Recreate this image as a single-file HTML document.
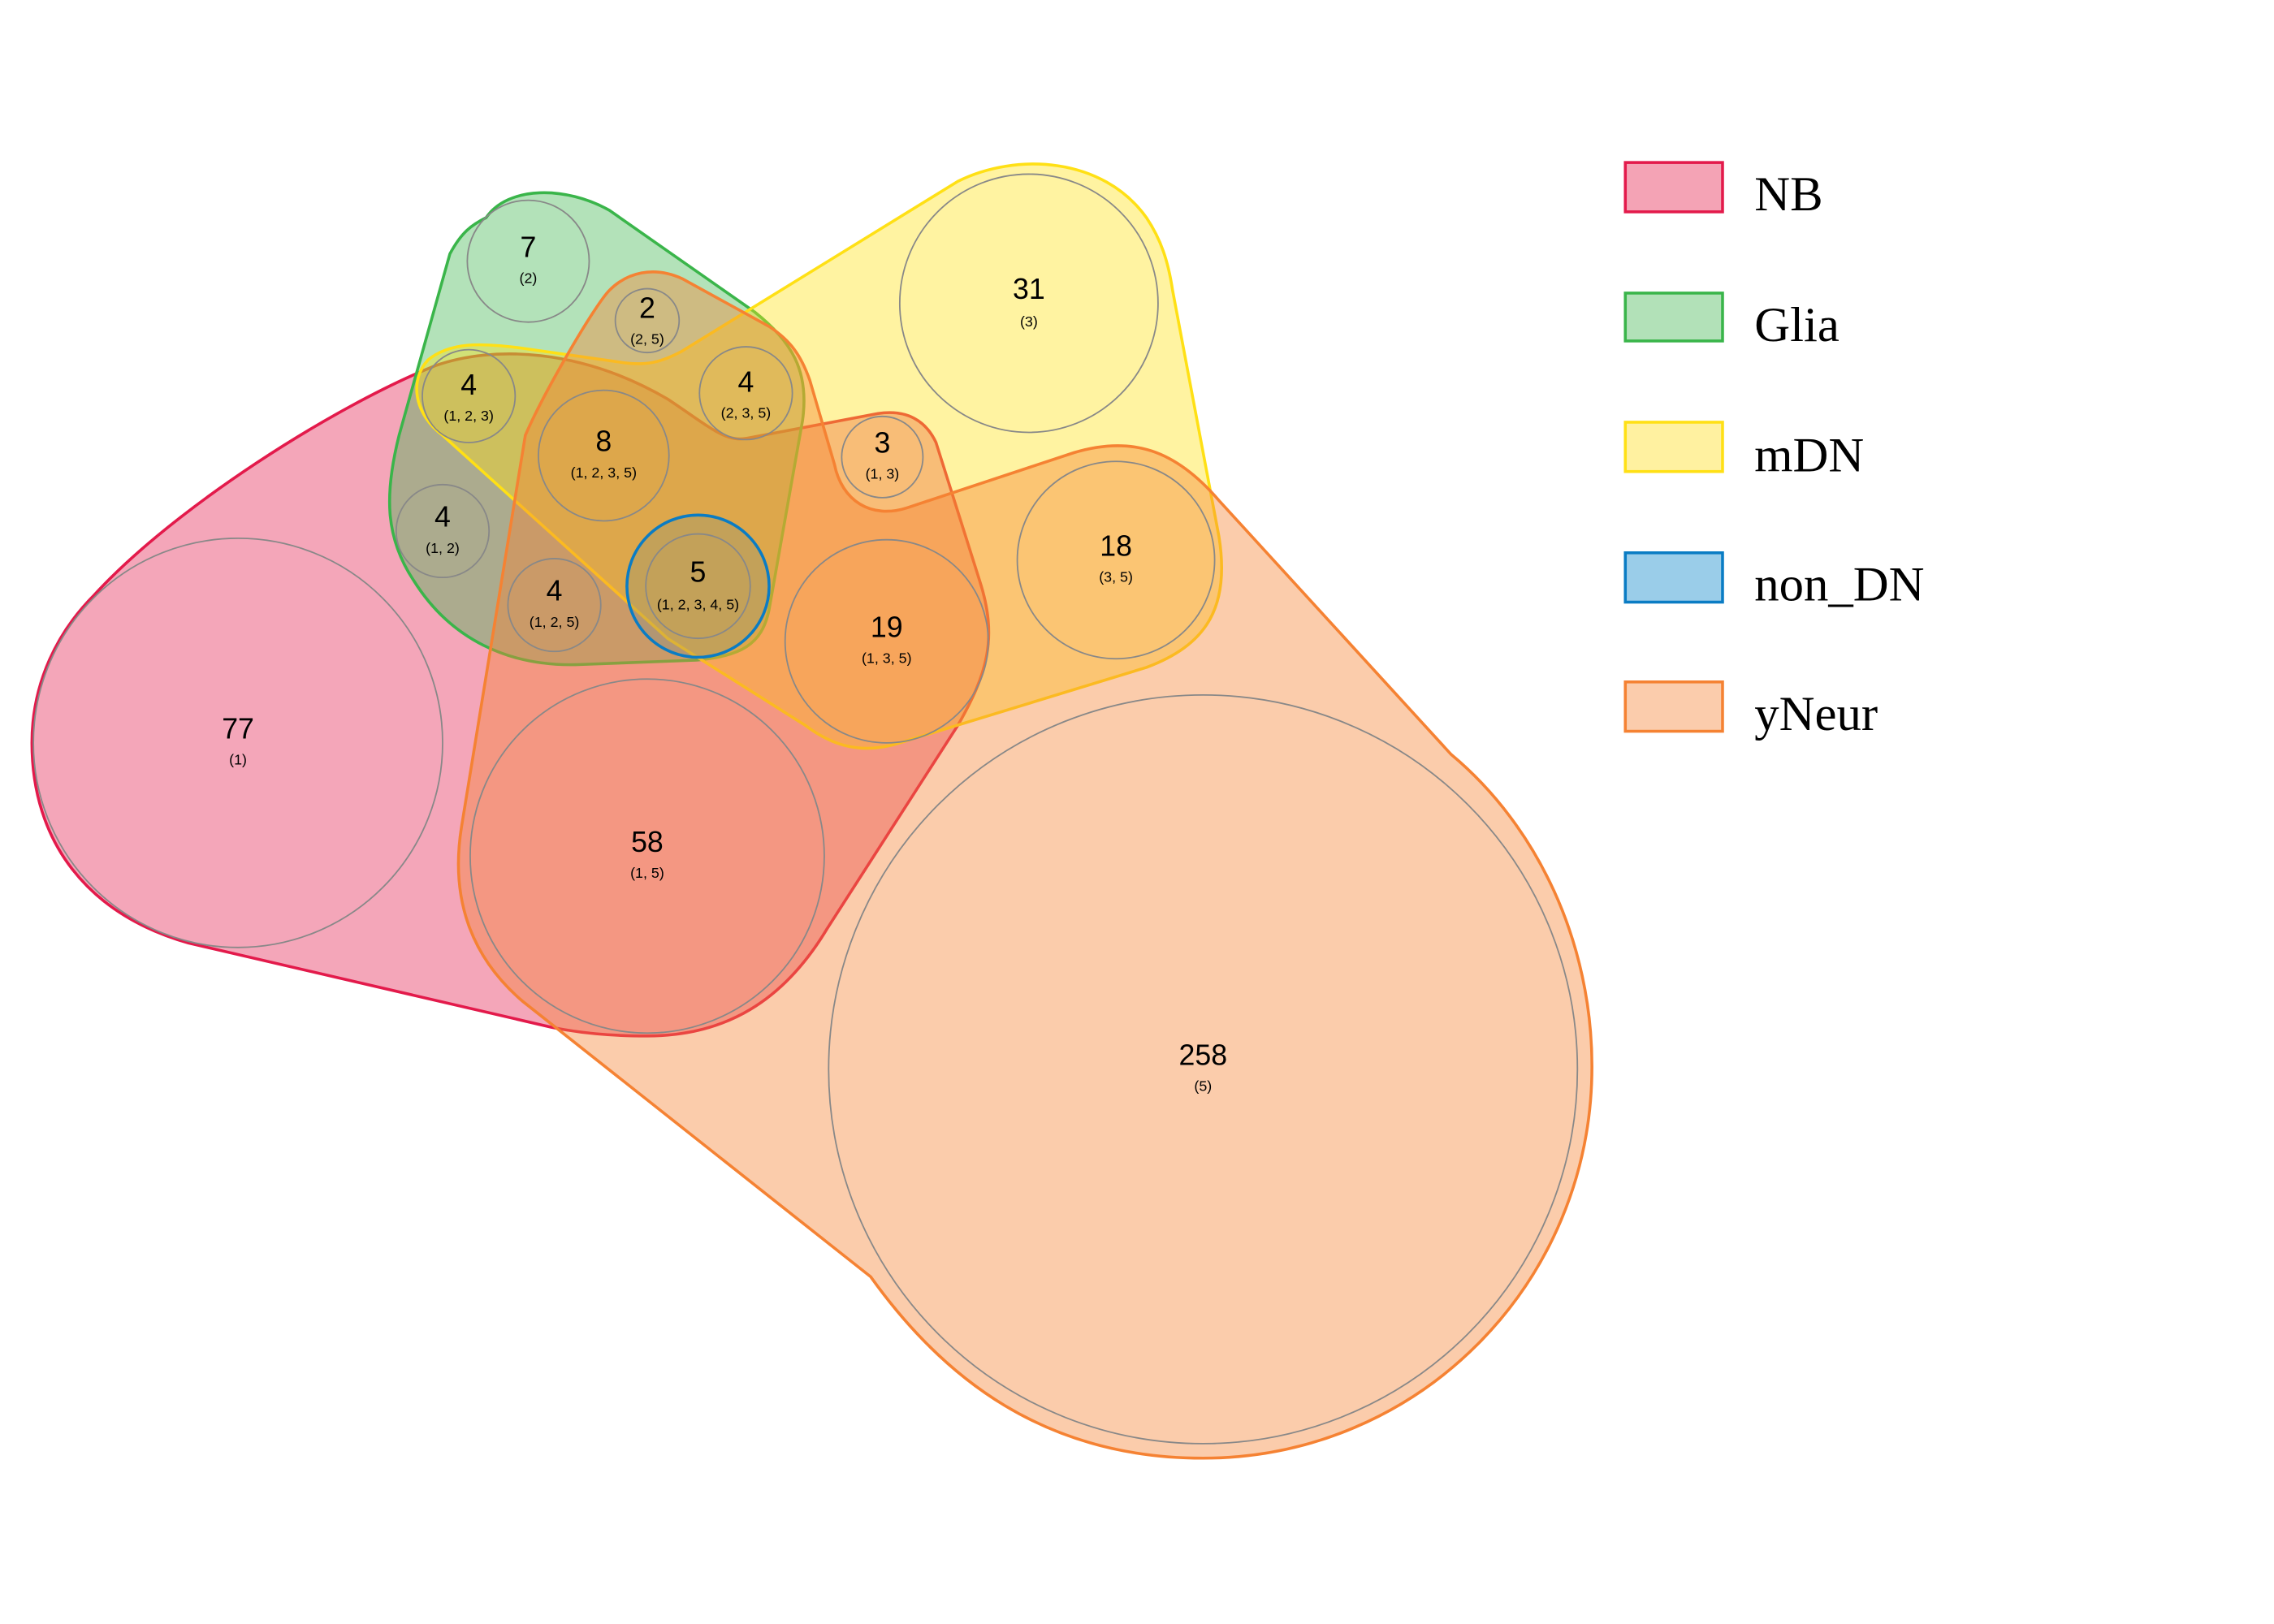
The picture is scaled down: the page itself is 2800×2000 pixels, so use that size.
<!DOCTYPE html>
<html><head><meta charset="utf-8"><style>html,body{margin:0;padding:0;background:#fff}svg{display:block}</style></head>
<body>
<svg width="2800" height="2000" viewBox="0 0 1567 1119.3" xmlns="http://www.w3.org/2000/svg">
<g stroke-width="2" stroke-linejoin="round">
<path d="M65,410 C120,350 230,280 300,252 C340,238 400,240 460,275 C490,295 500,305 515,302 L605,285 C625,282 638,290 645,305 L675,400 C688,440 680,465 660,500 L570,640 C540,690 500,714 446,714 C420,714 400,712 380,708 L130,650 C60,630 22,580 22,512 C22,470 40,435 65,410 Z" fill="#E31A4B" fill-opacity="0.39" stroke="#E31A4B"/>
<path d="M335,150 C350,128 390,128 420,145 L520,215 C545,235 558,255 553,290 L530,420 C525,445 510,452 480,455 L400,458 C350,460 310,440 285,400 C265,370 265,340 275,300 L310,175 C318,160 325,155 335,150 Z" fill="#3AB54A" fill-opacity="0.39" stroke="#3AB54A"/>
<path d="M295,248 C310,236 330,236 360,240 L430,250 C445,252 455,250 470,242 L660,125 C700,105 760,108 790,150 C800,165 805,180 808,200 L840,370 C848,420 830,445 790,460 L620,512 C595,520 575,515 555,500 L460,440 L305,300 C285,285 282,262 295,248 Z" fill="#FFE015" fill-opacity="0.4" stroke="#FFE015"/>
<path d="M420,200 C410,210 375,270 362,300 L318,570 C310,620 325,660 360,690 L600,880 C650,950 720,1005 829,1005 C977,1005 1097,885 1097,735 C1097,650 1060,570 1000,520 L840,345 C810,310 780,300 740,312 L625,350 C600,358 580,345 575,320 L558,262 C552,245 545,235 530,225 L470,192 C450,183 432,188 420,200 Z" fill="#F58233" fill-opacity="0.41" stroke="#F58233"/>
<circle cx="481" cy="404" r="49" fill="#0A7CC4" fill-opacity="0.12" stroke="#0A7CC4"/>
</g>
<g fill="none" stroke="#888" stroke-width="1">
<circle cx="364" cy="180" r="42"/><circle cx="446" cy="221" r="22"/><circle cx="323" cy="273" r="32"/><circle cx="514" cy="271" r="32"/><circle cx="416" cy="314" r="45"/><circle cx="608" cy="315" r="28"/><circle cx="709" cy="209" r="89"/><circle cx="305" cy="366" r="32"/><circle cx="382" cy="417" r="32"/><circle cx="481" cy="404" r="36"/><circle cx="611" cy="442" r="70"/><circle cx="769" cy="386" r="68"/><circle cx="164" cy="512" r="141"/><circle cx="446" cy="590" r="122"/><circle cx="829" cy="737" r="258"/>
</g>
<g font-family="Liberation Sans, sans-serif" text-anchor="middle" fill="#000">
<g font-size="20">
<text x="364" y="177">7</text><text x="446" y="219">2</text><text x="323" y="272">4</text><text x="514" y="270">4</text><text x="416" y="311">8</text><text x="608" y="312">3</text><text x="709" y="206">31</text><text x="305" y="363">4</text><text x="382" y="414">4</text><text x="481" y="401">5</text><text x="611" y="439">19</text><text x="769" y="383">18</text><text x="164" y="509">77</text><text x="446" y="587">58</text><text x="829" y="734">258</text>
</g>
<g font-size="10">
<text x="364" y="195">(2)</text><text x="446" y="237">(2, 5)</text><text x="323" y="290">(1, 2, 3)</text><text x="514" y="288">(2, 3, 5)</text><text x="416" y="329">(1, 2, 3, 5)</text><text x="608" y="330">(1, 3)</text><text x="709" y="225">(3)</text><text x="305" y="381">(1, 2)</text><text x="382" y="432">(1, 2, 5)</text><text x="481" y="420">(1, 2, 3, 4, 5)</text><text x="611" y="457">(1, 3, 5)</text><text x="769" y="401">(3, 5)</text><text x="164" y="527">(1)</text><text x="446" y="605">(1, 5)</text><text x="829" y="752">(5)</text>
</g>
</g>
<g stroke-width="2">
<rect x="1120" y="112" width="67" height="34" fill="#F4A3B5" stroke="#E31A4B"/>
<rect x="1120" y="202" width="67" height="33" fill="#B2E1B8" stroke="#3AB54A"/>
<rect x="1120" y="291" width="67" height="34" fill="#FFF1A0" stroke="#FFE015"/>
<rect x="1120" y="381" width="67" height="34" fill="#9ACDE9" stroke="#0A7CC4"/>
<rect x="1120" y="470" width="67" height="34" fill="#FBCCAC" stroke="#F58233"/>
</g>
<g font-family="Liberation Serif, serif" font-size="34" fill="#000">
<text x="1209" y="145">NB</text><text x="1209" y="235">Glia</text><text x="1209" y="325">mDN</text><text x="1209" y="414">non_DN</text><text x="1209" y="503">yNeur</text>
</g>
</svg>
</body></html>
